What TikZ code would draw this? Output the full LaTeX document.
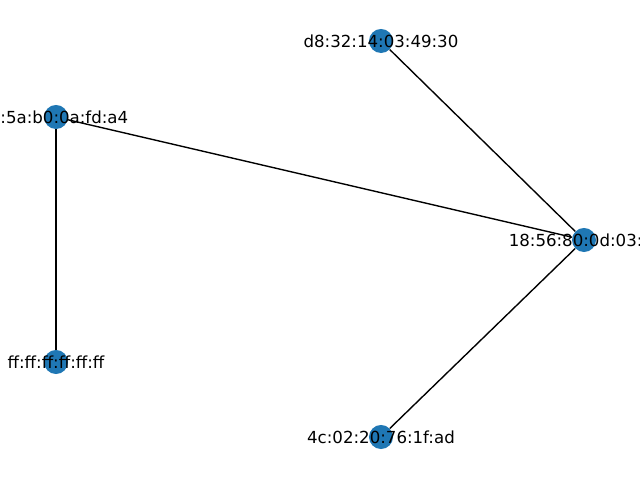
\documentclass[tikz,border=0pt]{standalone}
\usepackage{fontspec}
\setmainfont{DejaVu Sans}
\definecolor{nxblue}{HTML}{1F77B4}
\tikzset{
    net/.style={
        x=0.01in,y=-0.01in,
        host/.append style={circle,fill=nxblue,minimum size=0.24in,inner sep=0pt},
        mac/.append style={font=\fontsize{12}{14}\selectfont,inner sep=0pt},
        every edge/.append style={draw,line width=1pt}
    }
}
\begin{document}
\begin{tikzpicture}[net]
    \useasboundingbox (0,0) rectangle (640,480);
    \node[host] (a) at (56,117) {};
    \node[host] (b) at (381,41) {};
    \node[host] (c) at (584,240) {};
    \node[host] (d) at (56,362) {};
    \node[host] (e) at (381,437) {};
    \path (a) edge (d) edge (c);
    \path (c) edge (b) edge (e);
    % labels on top, the two at the edges are cut off
    \node[mac,anchor=east] (la) at (128.5,117) {:5a:b0:0a:fd:a4};
    \node[mac] (lb) at (b) {d8:32:14:03:49:30};
    \node[mac,anchor=west] (lc) at (508.5,240) {18:56:80:0d:03:};
    \node[mac] (ld) at (d) {ff:ff:ff:ff:ff:ff};
    \node[mac] (le) at (e) {4c:02:20:76:1f:ad};
\end{tikzpicture}
\end{document}
